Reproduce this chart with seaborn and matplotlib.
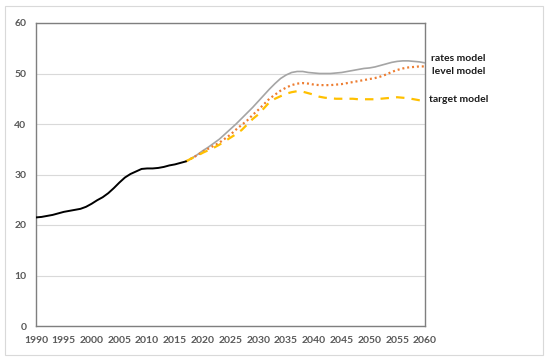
import numpy as np
import pandas as pd
import matplotlib
matplotlib.use("Agg")
import matplotlib.pyplot as plt
import seaborn as sns
from matplotlib.patches import Rectangle

# ---- data ----
hist_years = list(range(1990, 2018))
hist_values = [21.5, 21.6, 21.8, 22.0, 22.3, 22.6, 22.8, 23.0, 23.2, 23.6,
               24.2, 24.9, 25.5, 26.3, 27.3, 28.4, 29.4, 30.1, 30.6, 31.1,
               31.2, 31.2, 31.3, 31.5, 31.8, 32.0, 32.3, 32.6]

proj_years = list(range(2017, 2061))
rates_model = [32.6, 33.2, 33.9, 34.7, 35.4, 36.2, 37.0, 38.0, 39.0, 40.0,
               41.1, 42.2, 43.3, 44.5, 45.7, 46.9, 48.0, 49.0, 49.7, 50.2,
               50.4, 50.4, 50.2, 50.1, 50.0, 50.0, 50.0, 50.1, 50.2, 50.4,
               50.6, 50.8, 51.0, 51.1, 51.3, 51.6, 51.9, 52.2, 52.4, 52.5,
               52.5, 52.4, 52.3, 52.1]
level_model = [32.6, 33.2, 33.8, 34.5, 35.1, 35.7, 36.3, 37.1, 37.9, 38.9,
               39.8, 40.7, 41.8, 42.8, 43.9, 45.0, 45.8, 46.6, 47.2, 47.7,
               48.0, 48.1, 48.0, 47.8, 47.7, 47.7, 47.7, 47.8, 47.9, 48.1,
               48.3, 48.5, 48.7, 48.9, 49.1, 49.4, 49.8, 50.3, 50.7, 51.0,
               51.2, 51.3, 51.4, 51.4]
target_model = [32.6, 33.2, 33.7, 34.3, 34.8, 35.3, 35.9, 36.6, 37.3, 38.0,
                38.8, 39.9, 41.0, 41.9, 43.1, 44.3, 45.0, 45.5, 46.0, 46.3,
                46.5, 46.4, 46.1, 45.8, 45.4, 45.2, 45.1, 45.0, 45.0, 45.0,
                45.0, 44.9, 44.9, 44.9, 44.9, 45.0, 45.1, 45.2, 45.3, 45.2,
                45.1, 44.9, 44.7, 44.6]

series_labels = ["rates model", "level model", "target model"]
x_ticks = list(range(1990, 2061, 5))
y_ticks = [0, 10, 20, 30, 40, 50, 60]

# ---- style ----
sns.set_style("white")
plt.rcParams['font.family'] = ['Lato', 'DejaVu Sans']

fig = plt.figure(figsize=(5.5, 3.61), dpi=100)
ax = fig.add_axes([36/550, 35/361, 389/550, 303/361])

# figure border
fig.patches.append(Rectangle((5/550, 6/361), 538/550, 349/361,
                             transform=fig.transFigure, fill=False,
                             edgecolor="#D9D9D9", linewidth=0.8))

hist_df = pd.DataFrame({"year": hist_years, "value": hist_values})
proj_df = pd.DataFrame({"year": proj_years, "rates": rates_model,
                        "level": level_model, "target": target_model})

sns.lineplot(data=proj_df, x="year", y="rates", ax=ax, color="#A5A5A5",
             linewidth=1.2, zorder=3)
sns.lineplot(data=proj_df, x="year", y="level", ax=ax, color="#ED7D31",
             linewidth=1.6, zorder=4)
ax.lines[-1].set_dashes((0.9, 1.3))
sns.lineplot(data=proj_df, x="year", y="target", ax=ax, color="#FFC000",
             linewidth=1.6, zorder=5)
ax.lines[-1].set_dashes((3.8, 3.2))
sns.lineplot(data=hist_df, x="year", y="value", ax=ax, color="#000000",
             linewidth=1.4, zorder=6)

ax.set_xlim(1990, 2060)
ax.set_ylim(0, 60)
ax.set_xticks(x_ticks)
ax.set_yticks(y_ticks)
ax.set_xlabel("")
ax.set_ylabel("")
ax.tick_params(axis="x", labelsize=7.5, colors="#595959", length=2,
               width=0.8, direction="out", pad=5)
ax.tick_params(axis="y", labelsize=7.5, colors="#595959", length=0, pad=7)
for lbl in ax.get_xticklabels() + ax.get_yticklabels():
    lbl.set_fontweight("bold")
ax.yaxis.grid(True, color="#D9D9D9", linewidth=0.8)
ax.set_axisbelow(True)
for sp in ax.spines.values():
    sp.set_color("#7F7F7F")
    sp.set_linewidth(1.0)

label_pos = {"rates model": (2061.0, 52.9),
             "level model": (2061.2, 50.3),
             "target model": (2060.7, 44.8)}
for name in series_labels:
    x, y = label_pos[name]
    ax.text(x, y, name, fontsize=7.5, fontweight="bold", color="#1a1a1a",
            va="center", ha="left", clip_on=False)

fig.savefig("out.png", dpi=100)
